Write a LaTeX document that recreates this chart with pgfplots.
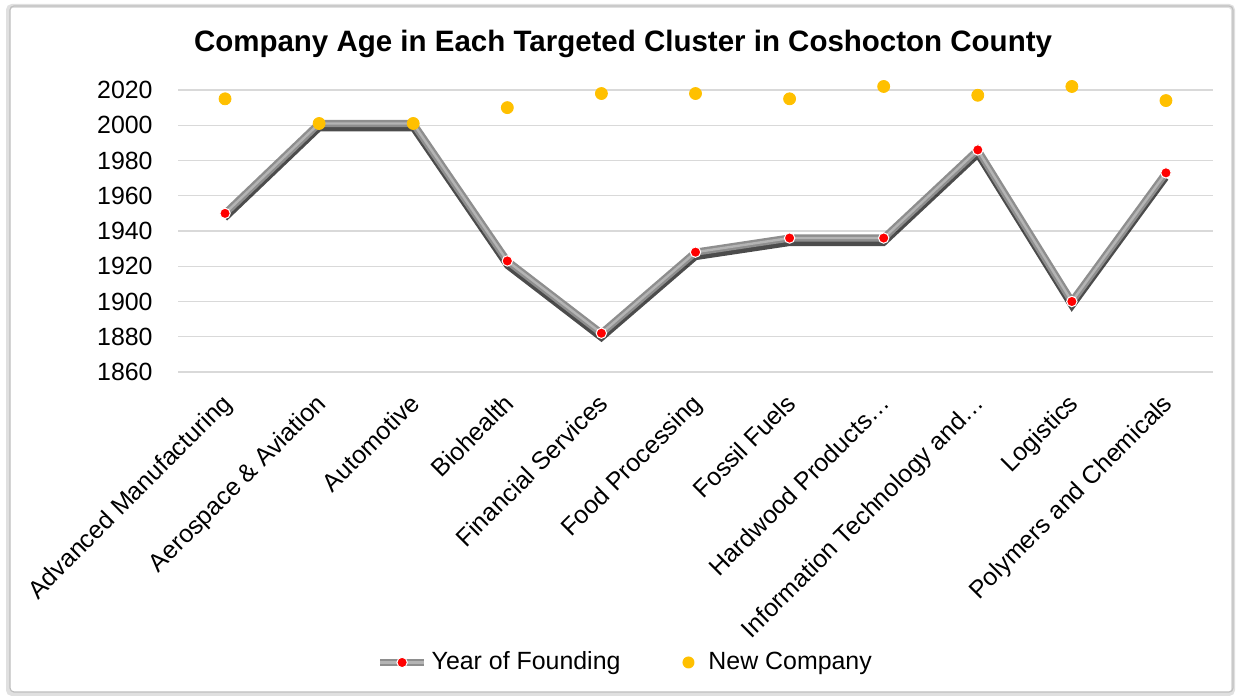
\documentclass[border=0pt]{standalone}
\usepackage{pgfplots}
\pgfplotsset{compat=1.18}
\usepackage{fontspec}
\setmainfont{Liberation Sans}
\definecolor{newco}{HTML}{FFC000}
\definecolor{linegray}{HTML}{8E8E8E}
\definecolor{linehi}{HTML}{B4B4B4}
\definecolor{gridgray}{HTML}{D9D9D9}

\pgfplotstableread{
x year
0 1950
1 2001
2 2001
3 1923
4 1882
5 1928
6 1936
7 1936
8 1986
9 1900
10 1973
}\founding

\pgfplotstableread{
x year
0 2015
1 2001
2 2001
3 2010
4 2018
5 2018
6 2015
7 2022
8 2017
9 2022
10 2014
}\newco

\begin{document}
\begin{tikzpicture}
\path (0bp,0bp) rectangle (619bp,349bp);
% chart frame
\draw[black!12, line width=2bp, rounded corners=2bp] (4bp,2bp) rectangle (616.5bp,346bp);
\draw[black!25, line width=0.6bp, rounded corners=2bp] (5bp,3bp) rectangle (616.5bp,346bp);
\node[font=\bfseries\fontsize{14.8}{18}\selectfont] at (311.5bp,327bp)
  {Company Age in Each Targeted Cluster in Coshocton County};

\begin{axis}[
  at={(89bp,163bp)}, anchor=south west,
  scale only axis, width=517.5bp, height=141bp,
  xmin=-0.5, xmax=10.5, ymin=1860, ymax=2020,
  clip=false,
  axis line style={draw=none},
  major tick length=0pt,
  ymajorgrids, grid style={gridgray, line width=0.6bp},
  ytick={1860,1880,...,2020},
  xtick={0,...,10},
  xticklabels={Advanced Manufacturing, Aerospace \& Aviation, Automotive,
    Biohealth, Financial Services, Food Processing, Fossil Fuels,
    Hardwood Products…, Information Technology and…, Logistics,
    Polymers and Chemicals},
  ticklabel style={font=\fontsize{12.5}{15}\selectfont},
  % shifts act in the rotated frame
  xticklabel style={rotate=45, anchor=north east, inner sep=0pt,
    xshift=-8.8bp, yshift=-5.3bp},
  yticklabel style={anchor=east, inner sep=0pt, xshift=-12.5bp},
  /pgf/number format/1000 sep={},
  /pgf/number format/assume math mode=true,
  legend style={draw=none, fill=none, at={(0.433,-1.03)}, anchor=center,
    font=\fontsize{12.5}{15}\selectfont, legend columns=2,
    /tikz/every even column/.append style={column sep=28bp}},
]
% shadow under the line
\addplot[black, opacity=0.7, line width=3bp, yshift=-2.5bp, forget plot]
  table[x=x, y=year] {\founding};
\addplot[linegray, line width=3.6bp, forget plot] table[x=x, y=year] {\founding};
\addplot[linehi, line width=1.2bp, forget plot] table[x=x, y=year] {\founding};
\addplot[only marks, mark=*, mark size=2.6bp,
  mark options={fill=red, draw=white, line width=0.5bp},
  legend image code/.code={
    \draw[linegray, line width=3.6bp] (0bp,0bp) -- (22bp,0bp);
    \draw[linehi, line width=1.2bp] (0bp,0bp) -- (22bp,0bp);
    \fill[red, draw=white, line width=0.5bp] (11bp,0bp) circle (2.6bp);
  }] table[x=x, y=year] {\founding};
\addlegendentry{Year of Founding}
\addplot[only marks, mark=*, mark size=3bp, mark options={fill=newco, draw=newco},
  legend image code/.code={
    \path[draw=none, fill=none] (0bp,0bp) rectangle (12bp,0.1bp);
    \fill[newco, draw=none] (4bp,0bp) circle (3bp);
  }] table[x=x, y=year] {\newco};
\addlegendentry{New Company}
\end{axis}
\end{tikzpicture}
\end{document}
